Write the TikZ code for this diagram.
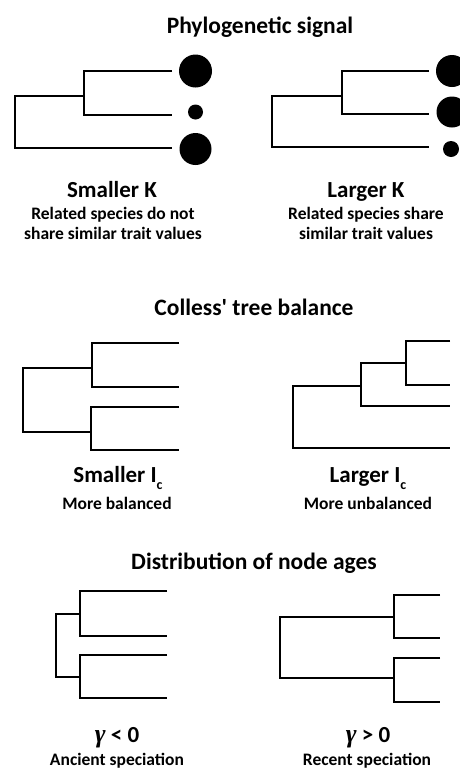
\documentclass[tikz,border=0pt]{standalone}
\usepackage{fontspec}
\setmainfont{Carlito}
\newfontfamily\rawfont{Carlito}
\newfontfamily\grkfont{Liberation Serif}
\begin{document}
\begin{tikzpicture}[x=1pt,y=-1pt,
  branch/.style={line width=1.5pt, line join=miter},
  dot/.style={circle, fill=black, inner sep=0pt, draw=none},
  ttl/.style={anchor=base, font=\fontsize{23.5}{26}\selectfont\bfseries},
  hd/.style={anchor=base, font=\fontsize{23}{25}\selectfont\bfseries},
  sub/.style={anchor=base, font=\fontsize{17.5}{19}\selectfont\bfseries}]
\useasboundingbox (0,0) rectangle (460,769);
\fill[white] (0,0) rectangle (460,769);

% ---------- Phylogenetic signal ----------
\node[ttl] (t1) at (260,33) {Phylogenetic signal};

% left tree
\coordinate (aR) at (15,122);
\coordinate (aN) at (84,96);
\coordinate (aT1) at (172,71);
\coordinate (aT2) at (172,115);
\coordinate (aT3) at (172,148);
\draw[branch] (aT1) -| (aN) |- (aT2);
\draw[branch] (aN) -| (aR) |- (aT3);
\node[dot, minimum size=33pt] (aC1) at (195.5,71) {};
\node[dot, minimum size=15pt] (aC2) at (195.5,112) {};
\node[dot, minimum size=32pt] (aC3) at (195.5,149) {};
\node[hd] (aL) at (112,197) {Smaller K};
\node[sub] (aS1) at (113,219) {Related species do not};
\node[sub] (aS2) at (113,239) {share similar trait values};

% right tree
\coordinate (bR) at (272,122);
\coordinate (bN) at (342,96);
\coordinate (bT1) at (429,71);
\coordinate (bT2) at (429,114);
\coordinate (bT3) at (429,147);
\draw[branch] (bT1) -| (bN) |- (bT2);
\draw[branch] (bN) -| (bR) |- (bT3);
\node[dot, minimum size=32pt] (bC1) at (452,71) {};
\node[dot, minimum size=31pt] (bC2) at (452,112) {};
\node[dot, minimum size=16pt] (bC3) at (451,149) {};
\node[hd] (bL) at (366,197) {Larger K};
\node[sub] (bS1) at (366,219) {Related species share};
\node[sub] (bS2) at (366,239) {similar trait values};

% ---------- Colless' tree balance ----------
\node[ttl] (t2) at (254,315) {Colless{\rawfont\bfseries '} tree balance};

% left (balanced)
\coordinate (cR) at (23,400);
\coordinate (cN1) at (92,368);
\coordinate (cN2) at (91,432);
\coordinate (cT1) at (179,343);
\coordinate (cT2) at (179,387);
\coordinate (cT3) at (179,407);
\coordinate (cT4) at (179,450);
\draw[branch] (cT1) -| (cN1) |- (cT2);
\draw[branch] (cT3) -| (cN2) |- (cT4);
\draw[branch] (cN1) -| (cR) |- (cN2);
\node[hd] (cL) at (118,482) {Smaller I\raisebox{-7pt}{\fontsize{14}{14}\selectfont c}};
\node[sub] (cS) at (117,509) {More balanced};

% right (unbalanced)
\coordinate (dR) at (293,420);
\coordinate (dN2) at (361,386);
\coordinate (dN3) at (406,363);
\coordinate (dT1) at (450,341);
\coordinate (dT2) at (450,385);
\coordinate (dT3) at (450,406);
\coordinate (dT4) at (450,448);
\draw[branch] (dT1) -| (dN3) |- (dT2);
\draw[branch] (dN3) -| (dN2) |- (dT3);
\draw[branch] (dN2) -| (dR) |- (dT4);
\node[hd] (dL) at (368,482) {Larger I\raisebox{-7pt}{\fontsize{14}{14}\selectfont c}};
\node[sub] (dS) at (368,509) {More unbalanced};

% ---------- Distribution of node ages ----------
\node[ttl] (t3) at (254,569) {Distribution of node ages};

% left (ancient)
\coordinate (eR) at (56,645);
\coordinate (eN1) at (80,614);
\coordinate (eN2) at (80,677);
\coordinate (eT1) at (167,591);
\coordinate (eT2) at (167,636);
\coordinate (eT3) at (167,655);
\coordinate (eT4) at (167,698);
\draw[branch] (eT1) -| (eN1) |- (eT2);
\draw[branch] (eT3) -| (eN2) |- (eT4);
\draw[branch] (eN1) -| (eR) |- (eN2);
\node[hd] (eL) at (117,742) {{\grkfont\itshape\bfseries\fontsize{26}{26}\selectfont γ} < 0};
\node[sub] (eS) at (117,765) {Ancient speciation};

% right (recent)
\coordinate (fR) at (280,648);
\coordinate (fN1) at (394,617);
\coordinate (fN2) at (394,678);
\coordinate (fT1) at (440,595);
\coordinate (fT2) at (440,638);
\coordinate (fT3) at (440,658);
\coordinate (fT4) at (440,702);
\draw[branch] (fT1) -| (fN1) |- (fT2);
\draw[branch] (fT3) -| (fN2) |- (fT4);
\draw[branch] (fN1) -| (fR) |- (fN2);
\node[hd] (fL) at (368,742) {{\grkfont\itshape\bfseries\fontsize{26}{26}\selectfont γ} > 0};
\node[sub] (fS) at (367,765) {Recent speciation};
\end{tikzpicture}
\end{document}
